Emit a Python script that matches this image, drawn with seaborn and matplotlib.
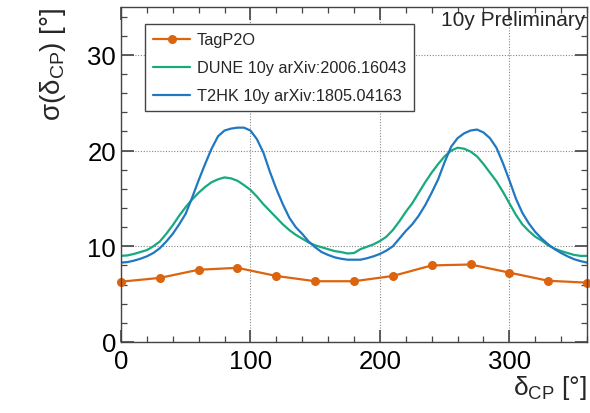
import numpy as np
import pandas as pd
import matplotlib
matplotlib.use("Agg")
import matplotlib.pyplot as plt
import seaborn as sns
from matplotlib.ticker import MultipleLocator

# values
tag_delta = [0, 30, 60, 90, 120, 150, 180, 210, 240, 270, 300, 330, 360]
tag_sigma = [6.3, 6.7, 7.55, 7.75, 6.9, 6.35, 6.35, 6.9, 8.0, 8.1, 7.25, 6.4, 6.2]

curve_delta = list(range(0, 361, 5))
dune_sigma = [9.0, 9.05, 9.2, 9.4, 9.6, 10.0, 10.5, 11.3, 12.2, 13.2, 14.1, 14.9,
              15.6, 16.2, 16.7, 17.0, 17.2, 17.1, 16.85, 16.4, 15.9, 15.2, 14.4, 13.7,
              13.0, 12.3, 11.7, 11.2, 10.8, 10.4, 10.1, 9.9, 9.7, 9.5, 9.4, 9.25,
              9.3, 9.7, 9.95, 10.2, 10.55, 11.0, 11.7, 12.6, 13.6, 14.5, 15.6, 16.7,
              17.7, 18.6, 19.4, 20.0, 20.3, 20.2, 19.9, 19.4, 18.6, 17.7, 16.8, 15.7,
              14.5, 13.3, 12.3, 11.6, 11.0, 10.6, 10.1, 9.75, 9.5, 9.3, 9.1, 9.0, 9.0]
t2hk_sigma = [8.3, 8.35, 8.5, 8.7, 8.95, 9.3, 9.8, 10.5, 11.3, 12.3, 13.4, 15.1,
              16.9, 18.6, 20.2, 21.5, 22.1, 22.3, 22.4, 22.4, 22.1, 21.2, 19.8, 17.8,
              16.0, 14.4, 13.0, 12.0, 11.3, 10.5, 9.9, 9.4, 9.1, 8.85, 8.7, 8.6,
              8.6, 8.6, 8.75, 8.95, 9.2, 9.55, 10.0, 10.8, 11.6, 12.3, 13.2, 14.3,
              15.6, 17.0, 18.8, 20.4, 21.3, 21.8, 22.1, 22.2, 21.9, 21.3, 20.3, 18.7,
              16.9, 15.0, 13.5, 12.4, 11.5, 10.8, 10.2, 9.7, 9.3, 8.95, 8.65, 8.45, 8.3]

labels = ["TagP2O", "DUNE 10y arXiv:2006.16043", "T2HK 10y arXiv:1805.04163"]
colors = ["#dd640f", "#18a97f", "#1f78c1"]

sns.set_style("ticks")
plt.rcParams["font.family"] = ["Liberation Sans", "DejaVu Sans"]
plt.rcParams["mathtext.default"] = "regular"

fig = plt.figure(figsize=(5.9, 4.14), dpi=100)
ax = fig.add_axes([0.205, 0.1715, 0.79, 0.809])

tag_df = pd.DataFrame({"delta": tag_delta, "sigma": tag_sigma})
dune_df = pd.DataFrame({"delta": curve_delta, "sigma": dune_sigma})
t2hk_df = pd.DataFrame({"delta": curve_delta, "sigma": t2hk_sigma})

sns.lineplot(data=tag_df, x="delta", y="sigma", ax=ax, color=colors[0], lw=1.6,
             marker="o", markersize=6.5, markeredgewidth=0, label=labels[0], clip_on=False)
sns.lineplot(data=dune_df, x="delta", y="sigma", ax=ax, color=colors[1], lw=1.6,
             label=labels[1])
sns.lineplot(data=t2hk_df, x="delta", y="sigma", ax=ax, color=colors[2], lw=1.6,
             label=labels[2])

ax.set_xlim(0, 360)
ax.set_ylim(0, 35)
ax.xaxis.set_major_locator(MultipleLocator(100))
ax.xaxis.set_minor_locator(MultipleLocator(20))
ax.yaxis.set_major_locator(MultipleLocator(10))
ax.yaxis.set_minor_locator(MultipleLocator(2))
ax.tick_params(which="both", direction="in", top=True, right=True, colors="#444444",
               labelcolor="black", labelsize=18.5)
ax.tick_params(which="major", length=9, width=1.2)
ax.tick_params(which="minor", length=4.5, width=0.9)
ax.tick_params(axis="x", pad=5)
ax.grid(which="major", ls=(0, (1, 1.5)), color="#888888", lw=0.8)
for s in ax.spines.values():
    s.set_color("#444444")
    s.set_linewidth(1.0)

ax.set_xlabel(r"$\delta_{CP}$ [°]", fontsize=19, loc="right", labelpad=0)
ax.set_ylabel(r"$\sigma(\delta_{CP}$) [°]", fontsize=20, loc="top", labelpad=14)

leg = ax.legend(loc="upper left", bbox_to_anchor=(0.0515, 0.949), fontsize=11.7,
                frameon=True, fancybox=False, handlelength=2.3, handletextpad=0.4,
                borderpad=0.5, labelspacing=0.8, borderaxespad=0)
leg.get_frame().set_edgecolor("#444444")
leg.get_frame().set_linewidth(1.0)
leg.get_frame().set_alpha(1)

ax.text(0.996, 0.99, "10y Preliminary", transform=ax.transAxes, ha="right", va="top",
        fontsize=15)

fig.savefig("out.png", dpi=100)
